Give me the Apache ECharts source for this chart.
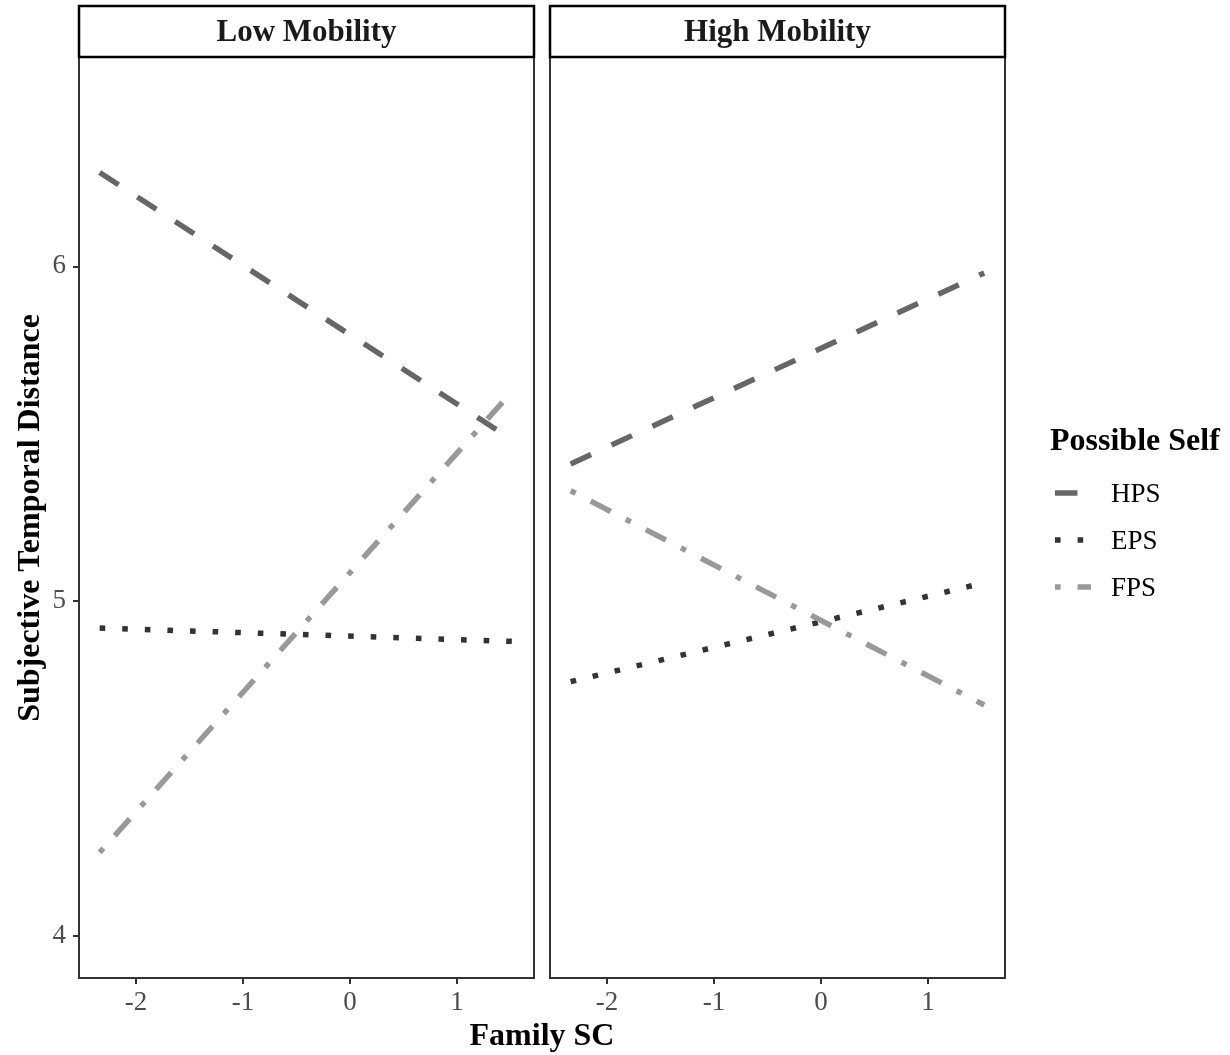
<!DOCTYPE html>
<html>
<head>
<meta charset="utf-8">
<script src="https://cdn.jsdelivr.net/npm/echarts@6/dist/echarts.min.js"></script>
<style>
  html, body { margin: 0; padding: 0; background: #fff; }
  #main { width: 1230px; height: 1055px; }
</style>
</head>
<body>
<div id="main"></div>
<script>
// data
var panels = ['Low Mobility', 'High Mobility'];
var groups = ['HPS', 'EPS', 'FPS'];
var xEnds = [-2.34, 1.526];          // Family SC range of the fitted lines
var lowHPS = [6.28, 5.48];
var lowEPS = [4.92, 4.88];
var lowFPS = [4.25, 5.63];
var highHPS = [5.41, 5.98];
var highEPS = [4.76, 5.055];
var highFPS = [5.33, 4.69];
var xTicks = [-2, -1, 0, 1];
var yTicks = [4, 5, 6];

var FONT = '"Liberation Serif", "DejaVu Serif", serif';
var styles = {
    HPS: { color: '#666666', type: [22.5, 22.5] },
    EPS: { color: '#333333', type: [5.6, 17] },
    FPS: { color: '#999999', type: [5.6, 17, 22.5, 17] }
};

function pts(ys) {
    var out = [];
    for (var i = 0; i < xEnds.length; i++) {
        out.push([xEnds[i], ys[i]]);
    }
    return out;
}

function mkSeries(name, ys, idx) {
    return {
        name: name,
        type: 'line',
        xAxisIndex: idx,
        yAxisIndex: idx,
        symbol: 'none',
        silent: true,
        lineStyle: { color: styles[name].color, width: 5.5, type: styles[name].type, cap: 'butt' },
        data: pts(ys)
    };
}

function xAxisFor(idx) {
    return {
        type: 'value', gridIndex: idx, min: -2.533, max: 1.72,
        splitLine: { show: false },
        axisLine: { show: false, onZero: false },
        axisTick: { show: true, customValues: xTicks, length: 6, lineStyle: { color: '#333', width: 2 } },
        axisLabel: { customValues: xTicks, margin: 11, color: '#4d4d4d', fontFamily: FONT, fontSize: 27,
            formatter: function (v) { return String(v); } }
    };
}

function yAxisFor(idx) {
    return {
        type: 'value', gridIndex: idx, min: 3.875, max: 6.625,
        splitLine: { show: false },
        axisLine: { show: false, onZero: false },
        axisTick: { show: idx === 0, customValues: yTicks, length: 6, lineStyle: { color: '#333', width: 2 } },
        axisLabel: { show: idx === 0, customValues: yTicks, margin: 13, padding: [6, 0, 0, 0],
            color: '#4d4d4d', fontFamily: FONT, fontSize: 27 }
    };
}

var myChart = echarts.init(document.getElementById('main'));

var gridBoxes = [{ left: 79, width: 455 }, { left: 550, width: 455 }];

var graphics = [];
for (var p = 0; p < panels.length; p++) {
    graphics.push({
        type: 'rect',
        shape: { x: gridBoxes[p].left, y: 6, width: gridBoxes[p].width, height: 51 },
        style: { fill: '#fff', stroke: '#000', lineWidth: 2.5 }
    });
    graphics.push({
        type: 'text',
        x: gridBoxes[p].left + gridBoxes[p].width / 2, y: 33,
        style: { text: panels[p], fill: '#1a1a1a', font: 'bold 31px ' + FONT, textAlign: 'center', textVerticalAlign: 'middle' }
    });
}
graphics.push({
    type: 'text', x: 542, y: 1037,
    style: { text: 'Family SC', fill: '#000', font: 'bold 32px ' + FONT, textAlign: 'center', textVerticalAlign: 'middle' }
});
graphics.push({
    type: 'text', x: 31, y: 518, rotation: Math.PI / 2,
    style: { text: 'Subjective Temporal Distance', fill: '#000', font: 'bold 32px ' + FONT, textAlign: 'center', textVerticalAlign: 'middle' }
});
// legend
graphics.push({
    type: 'text', x: 1050, y: 442,
    style: { text: 'Possible Self', fill: '#000', font: 'bold 32px ' + FONT, textAlign: 'left', textVerticalAlign: 'middle' }
});
for (var g = 0; g < groups.length; g++) {
    var ky = 493 + g * 47;
    graphics.push({
        type: 'line',
        shape: { x1: 1055, y1: ky, x2: 1091, y2: ky },
        style: { stroke: styles[groups[g]].color, lineWidth: 5.5, lineDash: styles[groups[g]].type, lineCap: 'butt' }
    });
    graphics.push({
        type: 'text', x: 1111, y: ky + 2,
        style: { text: groups[g], fill: '#000', font: '27px ' + FONT, textAlign: 'left', textVerticalAlign: 'middle' }
    });
}

var option = {
    backgroundColor: '#fff',
    animation: false,
    grid: [
        { left: 79, width: 455, top: 57, bottom: 77, show: true, borderColor: '#333', borderWidth: 2, backgroundColor: '#fff' },
        { left: 550, width: 455, top: 57, bottom: 77, show: true, borderColor: '#333', borderWidth: 2, backgroundColor: '#fff' }
    ],
    xAxis: [xAxisFor(0), xAxisFor(1)],
    yAxis: [yAxisFor(0), yAxisFor(1)],
    graphic: graphics,
    series: [
        mkSeries('HPS', lowHPS, 0),
        mkSeries('EPS', lowEPS, 0),
        mkSeries('FPS', lowFPS, 0),
        mkSeries('HPS', highHPS, 1),
        mkSeries('EPS', highEPS, 1),
        mkSeries('FPS', highFPS, 1)
    ]
};

myChart.setOption(option);
</script>
</body>
</html>
